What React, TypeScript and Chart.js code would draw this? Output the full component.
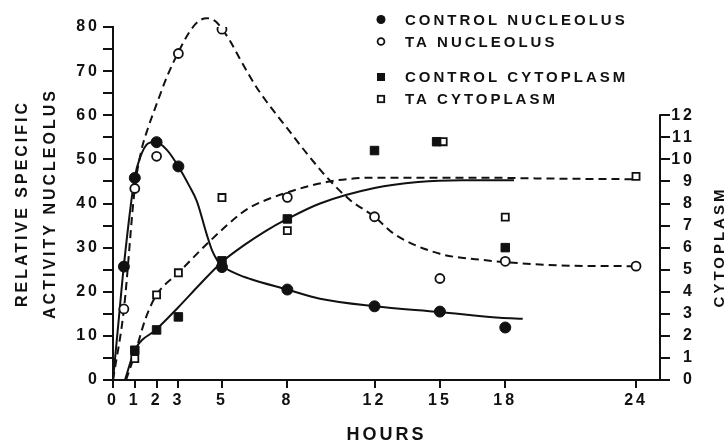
import { useEffect, useRef } from 'react';
import { Chart, registerables } from 'chart.js';

Chart.register(...registerables);

// ---- tick labels ----
const hoursTicks = [0, 1, 2, 3, 5, 8, 12, 15, 18, 24];
const nucleolusTicks = [0, 5, 10, 15, 20, 25, 30, 35, 40, 45, 50, 55, 60, 65, 70, 75, 80];
const cytoplasmTicks = [0, 1, 2, 3, 4, 5, 6, 7, 8, 9, 10, 11, 12];

// ---- measured points ----
const controlNucleolusHours = [0.5, 1, 2, 3, 5, 8, 12, 15, 18];
const controlNucleolus = [25.7, 45.8, 53.9, 48.4, 25.6, 20.5, 16.7, 15.5, 11.9];

const taNucleolusHours = [0.5, 1, 2, 3, 5, 8, 12, 15, 18, 24];
const taNucleolus = [16.1, 43.4, 50.7, 74.0, 79.5, 41.4, 37.0, 23.0, 26.9, 25.8];

const controlCytoplasmHours = [1, 2, 3, 5, 8, 12, 14.85, 18];
const controlCytoplasm = [1.35, 2.27, 2.86, 5.4, 7.3, 10.4, 10.8, 6.0];

const taCytoplasmHours = [1, 2, 3, 5, 8, 15.15, 18, 24];
const taCytoplasm = [0.97, 3.86, 4.86, 8.27, 6.77, 10.8, 7.38, 9.23];

// ---- hand-drawn fitted curves ----
const controlNucleolusCurveHours = [0, 0.25, 0.5, 1, 1.25, 1.6, 1.95, 2.5, 3, 3.5, 3.85, 4.3, 4.55, 4.8, 5, 5.7, 6.3, 8, 9.5, 12, 15, 17.75, 18.8];
const controlNucleolusCurve = [0, 13, 26, 46, 50.5, 53.6, 54, 52, 48.4, 44, 40.5, 33, 29.3, 27, 25.9, 24, 22.9, 20.5, 18.4, 16.7, 15.4, 14.1, 13.9];

const taNucleolusCurveHours = [0, 0.5, 1, 1.3, 1.6, 2, 2.5, 3, 3.5, 3.9, 4.3, 4.7, 5, 5.4, 5.8, 6.5, 7, 8, 8.9, 9.95, 10.9, 12, 12.9, 15, 16.8, 18, 21, 24];
const taNucleolusCurve = [0, 16, 43.4, 52, 57, 62.5, 69, 74.3, 78.8, 81.2, 82, 81.3, 79.6, 76.6, 73, 67, 63.4, 57, 51.3, 45.2, 40.7, 37, 33.1, 28.6, 27.3, 26.7, 25.9, 25.8];

const controlCytoplasmCurveHours = [0.55, 1, 2, 3, 4, 5, 6, 7, 8, 9.5, 12, 14, 16, 18.4];
const controlCytoplasmCurve = [0, 1.35, 2.3, 3.3, 4.35, 5.35, 6.1, 6.75, 7.3, 8.0, 8.7, 8.97, 9.05, 9.05];

const taCytoplasmCurveHours = [0.6, 1, 1.5, 2, 3, 4.45, 5.85, 6.3, 8, 9.95, 12, 16.8, 20, 24];
const taCytoplasmCurve = [0, 1.17, 2.8, 3.86, 4.86, 6.3, 7.53, 7.83, 8.5, 9.0, 9.17, 9.17, 9.13, 9.1];

const legendLabels = ['CONTROL NUCLEOLUS', 'TA NUCLEOLUS', 'CONTROL CYTOPLASM', 'TA CYTOPLASM'];

const INK = '#111';
const FONT = '"Liberation Sans", Arial, sans-serif';

const pts = (xs: number[], ys: number[]) => xs.map((x, i) => ({ x, y: ys[i] }));

const spacingPlugin = {
  id: 'letterSpacing',
  beforeUpdate(chart: any) { chart.ctx.letterSpacing = '3px'; },
  beforeDraw(chart: any) { chart.ctx.letterSpacing = '3px'; },
};

const decorPlugin = {
  id: 'decor',
  afterDraw(chart: any) {
    const ctx = chart.ctx as CanvasRenderingContext2D;
    const y2 = chart.scales.y2;
    const x0 = chart.chartArea.right;
    ctx.save();
    // right axis line 0..12
    ctx.strokeStyle = INK;
    ctx.lineWidth = 2;
    ctx.beginPath();
    ctx.moveTo(x0, y2.getPixelForValue(0) + 1);
    ctx.lineTo(x0, y2.getPixelForValue(12) - 1);
    ctx.stroke();
    // right axis title
    ctx.letterSpacing = '3px';
    ctx.fillStyle = INK;
    ctx.font = `bold 15px ${FONT}`;
    ctx.translate(720, 247);
    ctx.rotate(-Math.PI / 2);
    ctx.textAlign = 'center';
    ctx.textBaseline = 'middle';
    ctx.fillText('CYTOPLASM', 0, 0);
    ctx.restore();

    // legend
    const rows = [19.5, 41.5, 77, 99];
    ctx.save();
    ctx.letterSpacing = '3px';
    ctx.font = `bold 15px ${FONT}`;
    ctx.textBaseline = 'middle';
    ctx.textAlign = 'left';
    chart.data.datasets.slice(0, 4).forEach((ds: any, i: number) => {
      const y = rows[i];
      const mx = 381;
      ctx.fillStyle = INK;
      ctx.strokeStyle = INK;
      ctx.lineWidth = 1.8;
      if (i === 0) { ctx.beginPath(); ctx.arc(mx, y, 4.5, 0, Math.PI * 2); ctx.fill(); }
      if (i === 1) { ctx.beginPath(); ctx.arc(mx, y, 3.4, 0, Math.PI * 2); ctx.stroke(); }
      if (i === 2) { ctx.fillRect(mx - 4, y - 4, 8, 8); }
      if (i === 3) { ctx.strokeRect(mx - 3.2, y - 3.2, 6.4, 6.4); }
      ctx.fillStyle = INK;
      ctx.fillText(ds.label, 405, y + 1);
    });
    ctx.restore();
  },
};

export default function App() {
  const ref = useRef<HTMLCanvasElement>(null);
  useEffect(() => {
    document.body.style.margin = '0';
    const canvas = ref.current!;
    const tickFont = { family: FONT, size: 16, weight: 'bold' as const };
    const line = (data: any[], axis: string, dashed: boolean, clip = true) => ({
      type: 'line' as const,
      data,
      yAxisID: axis,
      borderColor: INK,
      borderWidth: 2,
      borderDash: dashed ? [8, 5] : [],
      pointRadius: 0,
      cubicInterpolationMode: 'monotone' as const,
      fill: false,
      clip: clip ? undefined : false,
    });
    const chart = new Chart(canvas, {
      type: 'scatter',
      data: {
        datasets: [
          { label: legendLabels[0], data: pts(controlNucleolusHours, controlNucleolus), yAxisID: 'y', pointStyle: 'circle', pointRadius: 5.5, backgroundColor: INK, borderColor: INK, borderWidth: 1 },
          { label: legendLabels[1], data: pts(taNucleolusHours, taNucleolus), yAxisID: 'y', pointStyle: 'circle', pointRadius: 4.5, backgroundColor: '#fff', borderColor: INK, borderWidth: 1.8 },
          { label: legendLabels[2], data: pts(controlCytoplasmHours, controlCytoplasm), yAxisID: 'y2', pointStyle: 'rect', pointRadius: 6, backgroundColor: INK, borderColor: INK, borderWidth: 1 },
          { label: legendLabels[3], data: pts(taCytoplasmHours, taCytoplasm), yAxisID: 'y2', pointStyle: 'rect', pointRadius: 5, backgroundColor: '#fff', borderColor: INK, borderWidth: 1.8 },
          { label: 'control nucleolus fit', ...line(pts(controlNucleolusCurveHours, controlNucleolusCurve), 'y', false) },
          { label: 'TA nucleolus fit', ...line(pts(taNucleolusCurveHours, taNucleolusCurve), 'y', true, false) },
          { label: 'control cytoplasm fit', ...line(pts(controlCytoplasmCurveHours, controlCytoplasmCurve), 'y2', false) },
          { label: 'TA cytoplasm fit', ...line(pts(taCytoplasmCurveHours, taCytoplasmCurve), 'y2', true) },
        ] as any,
      },
      options: {
        animation: false,
        responsive: false,
        layout: { padding: { top: 27, left: 0, right: 33, bottom: 0 } },
        plugins: { legend: { display: false }, tooltip: { enabled: false } },
        scales: {
          x: {
            type: 'linear',
            min: 0,
            max: 25.1,
            afterBuildTicks: (s: any) => { s.ticks = hoursTicks.map((v) => ({ value: v })); },
            afterFit: (s: any) => { s.height = 67; },
            ticks: { color: INK, font: tickFont, padding: 3, maxRotation: 0, autoSkip: false, callback: (v: any) => String(v) },
            grid: { drawOnChartArea: false, drawTicks: true, tickLength: 8, color: INK, lineWidth: 2 },
            border: { display: true, color: INK, width: 2 },
            title: { display: true, text: 'HOURS', color: INK, font: { family: FONT, size: 18, weight: 'bold', lineHeight: 1 }, padding: { top: 0, bottom: 3 } },
          },
          y: {
            type: 'linear',
            position: 'left',
            min: 0,
            max: 80,
            afterBuildTicks: (s: any) => { s.ticks = nucleolusTicks.map((v) => ({ value: v })); },
            afterFit: (s: any) => { s.width = 113; },
            ticks: { color: INK, font: tickFont, padding: 3, autoSkip: false, callback: (v: any) => (Number(v) % 10 === 0 ? String(v) : '') },
            grid: { drawOnChartArea: false, drawTicks: true, tickLength: 10, color: INK, lineWidth: 2 },
            border: { display: true, color: INK, width: 2 },
            title: { display: true, text: ['RELATIVE SPECIFIC', 'ACTIVITY NUCLEOLUS'], color: INK, font: { family: FONT, size: 16, weight: 'bold', lineHeight: 1.78 }, padding: { top: 8, bottom: 0 } },
          },
          y2: {
            type: 'linear',
            position: 'right',
            min: 0,
            max: 16,
            afterBuildTicks: (s: any) => { s.ticks = cytoplasmTicks.map((v) => ({ value: v })); },
            afterFit: (s: any) => { s.width = 35; },
            ticks: { color: INK, font: tickFont, padding: 2, crossAlign: 'far', autoSkip: false, callback: (v: any) => String(v) },
            grid: { drawOnChartArea: false, drawTicks: true, tickLength: 10, color: INK, lineWidth: 2 },
            border: { display: false },
          },
        },
      } as any,
      plugins: [spacingPlugin, decorPlugin],
    });
    return () => chart.destroy();
  }, []);
  return (
    <div style={{ width: 728, height: 447, background: '#fff' }}>
      <canvas ref={ref} width={728} height={447} style={{ display: 'block', width: 728, height: 447 }} />
    </div>
  );
}
